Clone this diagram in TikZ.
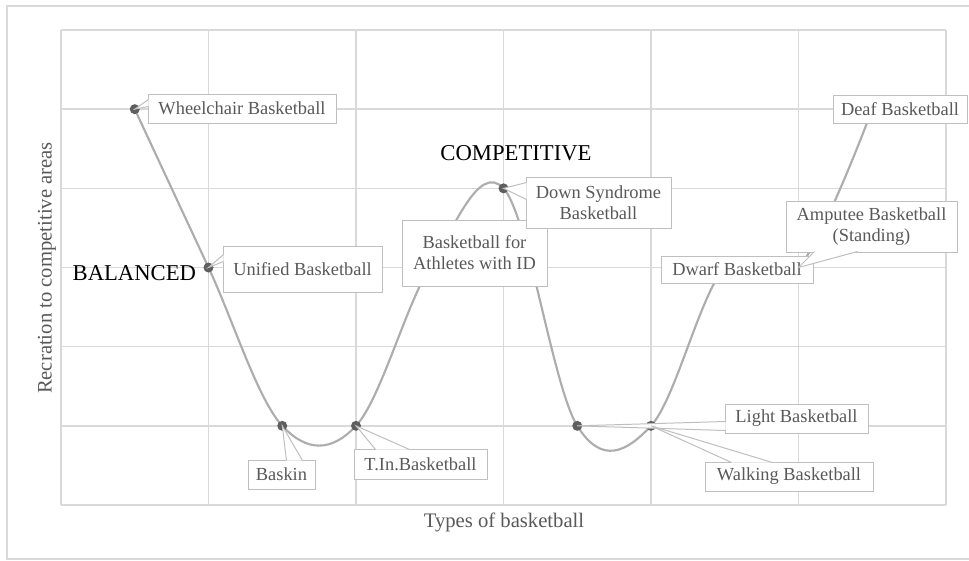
\documentclass[tikz,border=0pt]{standalone}
\usepackage{fontspec}
\setmainfont{Liberation Serif}
\usetikzlibrary{calc}
\definecolor{gridc}{HTML}{D9D9D9}
\definecolor{boxc}{HTML}{BFBFBF}
\definecolor{txt}{HTML}{595959}
\definecolor{curvec}{HTML}{ADADAD}
\definecolor{dotc}{HTML}{5E5E5E}
\tikzset{
  every picture/.style={line width=0.75pt},
  frame/.style={draw=gridc,line width=1pt},
  gridline/.style={draw=gridc,line width=1.1pt},
  curve/.style={draw=curvec,line width=1.6pt},
  datadot/.style={fill=dotc},
  lbl/.style={draw=boxc,fill=white,text=txt,align=center,inner sep=0pt,
    font=\fontsize{13.8}{15.8}\selectfont},
  callout/.style={draw=boxc},
  big/.style={font=\fontsize{17}{19}\selectfont,text=black},
  axt/.style={font=\fontsize{15.5}{18}\selectfont,text=txt},
}
\begin{document}
\begin{tikzpicture}[x=0.75pt,y=-0.75pt]
  \useasboundingbox (0,0) rectangle (969,560);
  \fill[white] (0,0) rectangle (969,560);
  \draw[frame] (969,6) -| (7,559) -- (969,559);
  % plot area, data units
  \coordinate (O) at (61,505);
  \begin{scope}[shift={(O)},x=110.625pt,y=59.375pt]
    \foreach \i in {0,...,6} {
      \draw[gridline] (\i,0) -- (\i,6);
      \draw[gridline] (0,\i) -- (6,\i);
    }
    \foreach \n/\px/\py in {wc/0.5/5,un/1/3,bk/1.5/1,ti/2/1,id/2.5/3,ds/3/4,
                            lt/3.5/1,wk/4/1,dw/4.5/3,am/5/3,df/5.5/5}
      \coordinate (p-\n) at (\px,\py);
    \draw[curve] plot[smooth,tension=0.6] coordinates {(p-wc) (p-un) (p-bk) (p-ti) (p-id)
      (p-ds) (p-lt) (p-wk) (p-dw) (p-am) (p-df)};
    \foreach \n in {wc,un,bk,ti,id,ds,lt,wk,dw,am,df}
      \fill[datadot] (p-\n) circle (3.75pt);
  \end{scope}
  % data labels
  \node[lbl,minimum width=141pt,minimum height=21.75pt] (wc) at (242,108.5) {Wheelchair Basketball};
  \node[lbl,minimum width=119.25pt,minimum height=34.5pt] (un) at (302.5,269) {Unified Basketball};
  \node[lbl,minimum width=50.25pt,minimum height=21.75pt] (bk) at (281.5,474.5) {Baskin};
  \node[lbl,minimum width=99.75pt,minimum height=22.5pt] (ti) at (420.5,464) {T.In.Basketball};
  \node[lbl,minimum width=108.75pt,minimum height=49.5pt] (id) at (474.5,253) {Basketball for\\Athletes with ID};
  \node[lbl,minimum width=108.75pt,minimum height=38.25pt] (ds) at (598.5,202.5) {Down Syndrome\\Basketball};
  \node[lbl,minimum width=114pt,minimum height=20.25pt] (dw) at (737,269.5) {Dwarf Basketball};
  \node[lbl,minimum width=128.25pt,minimum height=38.25pt] (am) at (871.5,226.5) {Amputee Basketball\\(Standing)};
  \node[lbl,minimum width=100.5pt,minimum height=21pt] (df) at (900,109) {Deaf Basketball};
  \node[lbl,minimum width=107.25pt,minimum height=21.75pt] (lt) at (796.5,418.5) {Light Basketball};
  \node[lbl,minimum width=126pt,minimum height=21.75pt] (wk) at (789,476.5) {Walking Basketball};
  % callout wedges: tip / box / anchor / base offsets in px
  \foreach \t/\a/\ax/\ay/\bx/\by in {wc/north west/1/6/1/13, un/north west/1/9/1/16,
      bk/north west/39/1/55/1, ti/north west/22/1/56/1, ds/north west/1/6/1/23,
      am/south west/29/-1/72/-1, lt/north west/1/18/1/27, wk/north west/27/1/68/1}
  {
    \fill[white] ($(\t.\a)+(\ax,\ay)$) -- (p-\t) -- ($(\t.\a)+(\bx,\by)$) -- cycle;
    \draw[callout] ($(\t.\a)+(\ax,\ay)$) -- (p-\t) -- ($(\t.\a)+(\bx,\by)$);
  }
  \node[big,anchor=east] (bal) at (201,273) {BALANCED};
  \node[big] (comp) at (516,153) {COMPETITIVE};
  \node[axt] (xt) at (504,522) {Types of basketball};
  \node[axt,rotate=90] (yt) at (47,268) {Recration to competitive areas};
\end{tikzpicture}
\end{document}
